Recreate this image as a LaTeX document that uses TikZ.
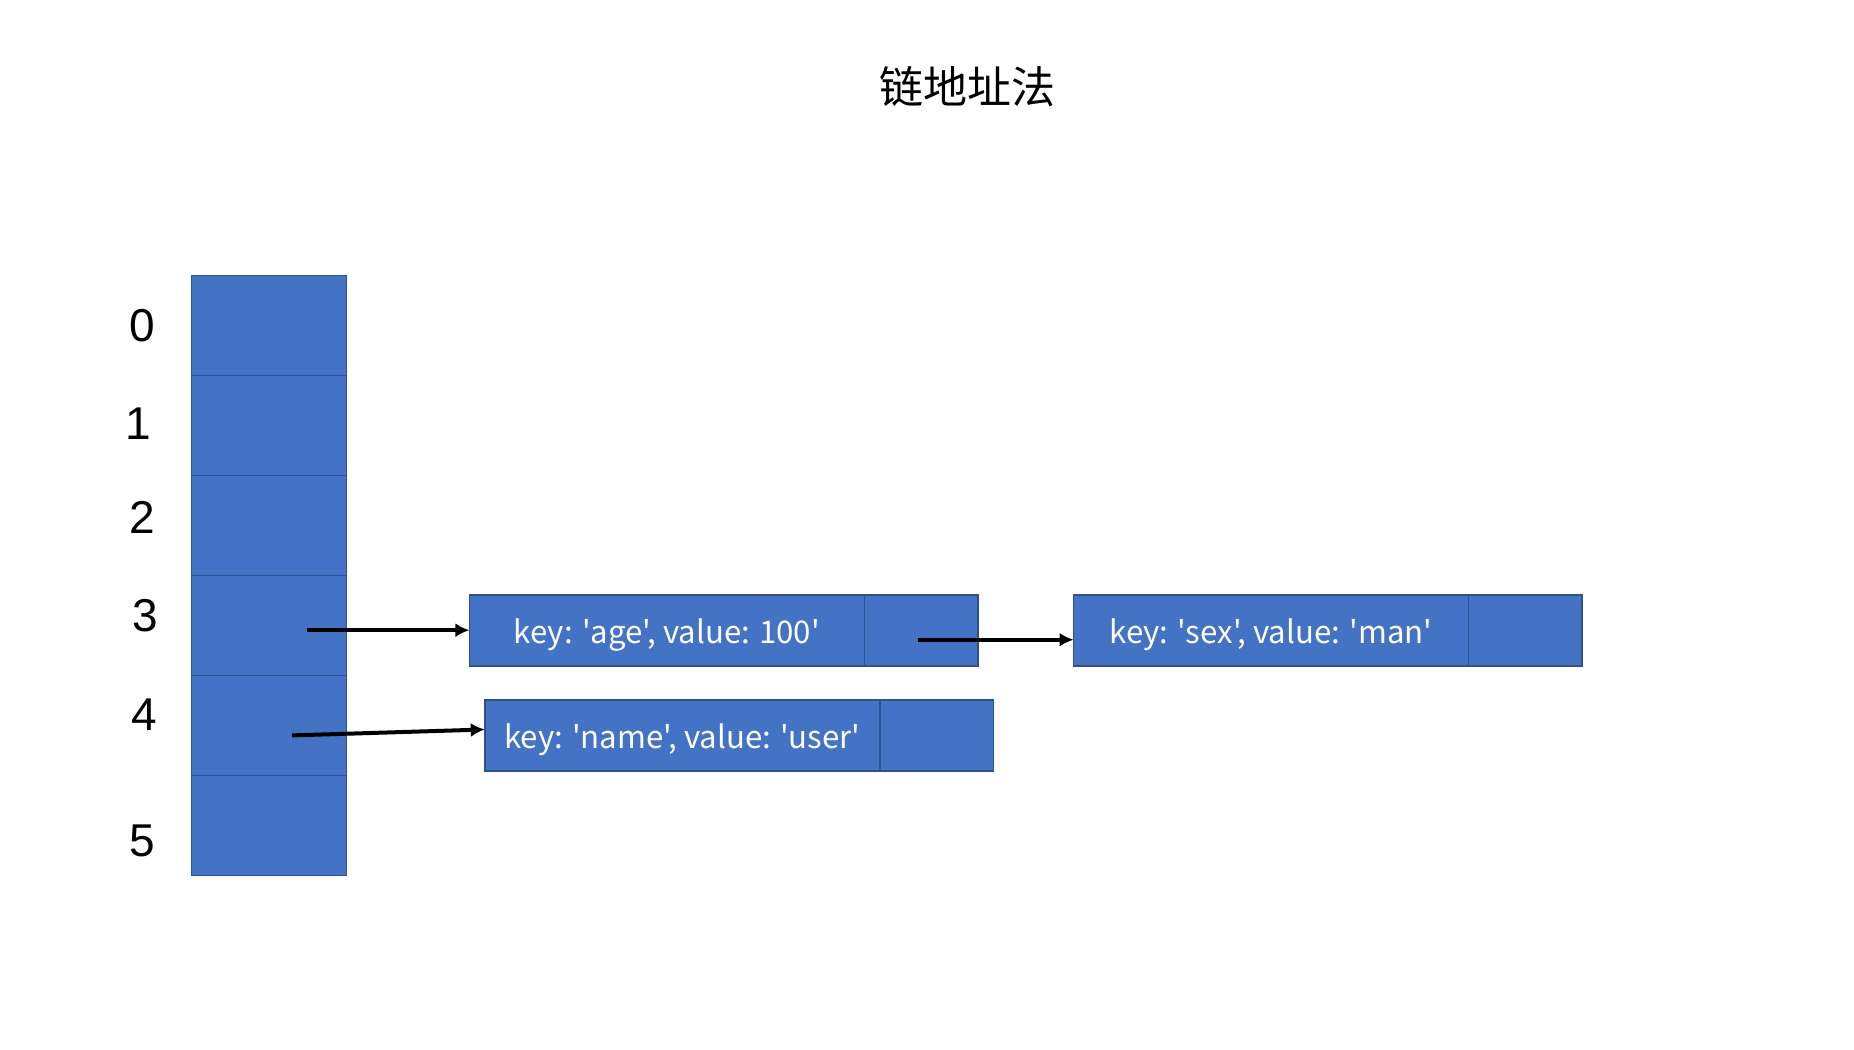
\documentclass[tikz,border=0pt]{standalone}
\usepackage{fontspec}
\setmainfont{Liberation Sans}
\newfontfamily\cjk{Noto Sans CJK SC}
\usetikzlibrary{arrows.meta}
\definecolor{boxfill}{HTML}{4472C4}
\definecolor{boxline}{HTML}{2F528F}
\tikzset{
  cell/.style={draw=boxline, fill=boxfill, line width=0.8pt, minimum width=77.5pt, minimum height=50pt, inner sep=0pt, outer sep=0pt},
  entry/.style={draw=boxline, fill=boxfill, line width=0.8pt, minimum width=197.5pt, minimum height=35.5pt, inner sep=0pt, outer sep=0pt, text=white, text height=12.8pt, text depth=0pt, font=\cjk\fontsize{15.6}{17}\selectfont},
  ptr/.style={draw=boxline, fill=boxfill, line width=0.8pt, minimum width=56.8pt, minimum height=35.5pt, inner sep=0pt, outer sep=0pt},
  idx/.style={font=\fontsize{23}{26}\selectfont, inner sep=0pt},
  link/.style={line width=2pt, -{Latex[length=7pt,width=7pt]}}
}
\begin{document}
\begin{tikzpicture}[x=0.5pt,y=-0.5pt]
\useasboundingbox (0,0) rectangle (1854,1050);
\node[font=\cjk\fontsize{22}{26}\selectfont] (title) at (967,87) {链地址法};
\foreach \i in {0,...,5} {
  \node[cell] (c\i) at (269,{325.5+100*\i}) {};
}
\node[idx] (l0) at (142,326) {0};
\node[idx] (l1) at (138,424) {1};
\node[idx] (l2) at (142,517) {2};
\node[idx] (l3) at (145,616) {3};
\node[idx] (l4) at (144,715) {4};
\node[idx] (l5) at (142,841) {5};

\node[entry] (e1) at (666.9,630.2) {key: 'age', value: 100'};
\node[ptr] (q1) at (921.1,630.2) {};
\node[entry] (e2) at (1271,630.2) {key: 'sex', value: 'man'};
\node[ptr] (q2) at (1525.3,630.2) {};
\node[entry] (e3) at (682.3,735.5) {key: 'name', value: 'user'};
\node[ptr] (q3) at (936.5,735.5) {};

\coordinate (p3) at (307,630.2);
\coordinate (p4) at (292,735.4);
\coordinate (pq1) at (917.5,639.7);
\draw[link] (p3) -- (e1.west);
\draw[link] (pq1) -- (pq1 -| e2.west);
\draw[link] (p4) -- ([yshift=3pt]e3.west);
\end{tikzpicture}
\end{document}
